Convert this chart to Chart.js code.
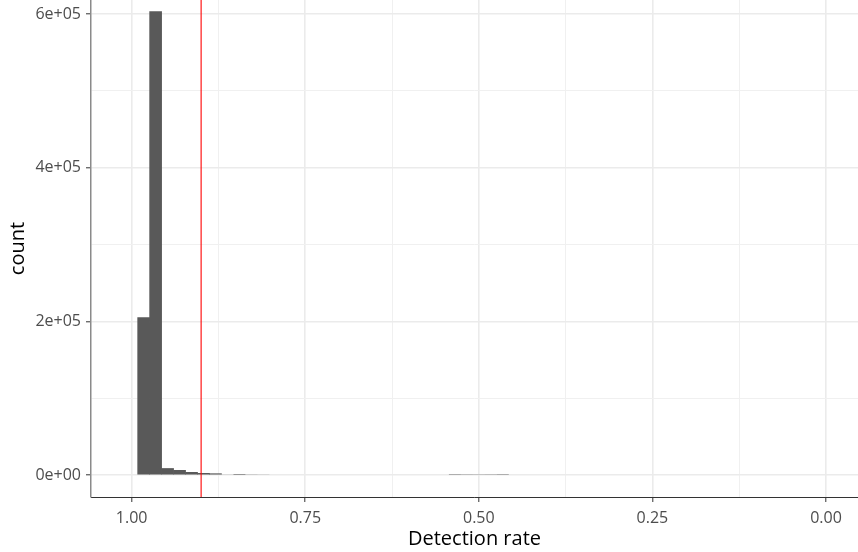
<!DOCTYPE html>
<html>
<head>
<meta charset="utf-8">
<script src="https://cdn.jsdelivr.net/npm/chart.js@4/dist/chart.umd.min.js"></script>
<style>
  html, body { margin: 0; padding: 0; background: #ffffff; }
  canvas { display: block; }
</style>
</head>
<body>
<canvas id="chart" width="858" height="552"></canvas>
<script>
// Histogram bins with a non-empty count: centre of each bin (detection rate) and its count
const binCenters = [0.98276, 0.96552, 0.94828, 0.93103, 0.91379, 0.89655, 0.87931, 0.86207,
                    0.84483, 0.82759, 0.81034,
                    0.53448, 0.51724, 0.50000, 0.48276, 0.46552];
const binCounts = [205000, 603000, 8500, 6100, 3500, 2200, 1700, 900,
                   300, 1300, 1200,
                   500, 650, 700, 650, 500];

// Detection-rate threshold, drawn as a vertical rule
const threshold = 0.9;

// Axis ticks (major with labels, minor as grid only)
const xTickValues = [1, 0.75, 0.5, 0.25, 0];
const xTickLabels = ['1.00', '0.75', '0.50', '0.25', '0.00'];
const xMinorValues = [0.875, 0.625, 0.375, 0.125];
const yTickValues = [0, 200000, 400000, 600000];
const yTickLabels = ['0e+00', '2e+05', '4e+05', '6e+05'];
const yMinorValues = [100000, 300000, 500000];

// Visible ranges of the two axes
const xRange = [-0.0461, 1.0586];
const yRange = [-28633, 618220];

const isMajorX = v => xTickValues.some(t => Math.abs(t - v) < 1e-9);
const isMajorY = v => yTickValues.some(t => Math.abs(t - v) < 1e-6);

const gridColor = (ctx, major) => (ctx.tick && major(ctx.tick.value)) ? '#EBEBEB' : '#F0F0F0';
const gridWidth = (ctx, major) => (ctx.tick && major(ctx.tick.value)) ? 1.6 : 1;
const tickColor = (ctx, major) => (ctx.tick && major(ctx.tick.value)) ? '#333333' : 'rgba(0,0,0,0)';

Chart.defaults.font.family = "'Open Sans', 'Noto Sans', sans-serif";

new Chart(document.getElementById('chart'), {
  type: 'bar',
  data: {
    datasets: [
      {
        type: 'line',
        data: [{ x: threshold, y: yRange[0] }, { x: threshold, y: yRange[1] }],
        borderColor: '#FF0000',
        borderWidth: 1.1,
        pointRadius: 0,
        fill: false,
        order: 0
      },
      {
        type: 'bar',
        data: binCenters.map((c, i) => ({ x: c, y: binCounts[i] })),
        backgroundColor: '#595959',
        borderWidth: 0,
        // close the hairline seams between tall neighbouring bars only
        inflateAmount: ctx => (ctx.raw && ctx.raw.y >= 1500 ? 0.33 : 0),
        barPercentage: 1,
        categoryPercentage: 1,
        order: 1
      }
    ]
  },
  options: {
    responsive: false,
    devicePixelRatio: 1,
    animation: false,
    layout: { padding: 0 },
    plugins: { legend: { display: false }, tooltip: { enabled: false } },
    scales: {
      x: {
        type: 'linear',
        reverse: true,
        offset: false,
        min: xRange[0],
        max: xRange[1],
        afterBuildTicks: s => {
          s.ticks = [...xTickValues, ...xMinorValues].sort((a, b) => a - b).map(v => ({ value: v }));
        },
        afterFit: s => { s.height = 55; s.paddingLeft = 0; s.paddingRight = 0; },
        ticks: {
          autoSkip: false,
          maxRotation: 0,
          minRotation: 0,
          color: '#4D4D4D',
          font: { size: 16 },
          padding: 7,
          callback: v => {
            const i = xTickValues.findIndex(t => Math.abs(t - v) < 1e-9);
            return i >= 0 ? xTickLabels[i] : '';
          }
        },
        grid: {
          offset: false,
          color: ctx => gridColor(ctx, isMajorX),
          lineWidth: ctx => gridWidth(ctx, isMajorX),
          tickColor: ctx => tickColor(ctx, isMajorX),
          tickLength: 5,
          tickWidth: 1
        },
        border: { display: true, color: '#333333', width: 1 },
        title: {
          display: true,
          text: 'Detection rate',
          color: '#000000',
          font: { size: 20 },
          padding: { top: 0, bottom: 1 }
        }
      },
      y: {
        type: 'linear',
        min: yRange[0],
        max: yRange[1],
        afterBuildTicks: s => {
          s.ticks = [...yTickValues, ...yMinorValues].sort((a, b) => a - b).map(v => ({ value: v }));
        },
        afterFit: s => { s.width = 91; s.paddingTop = 0; s.paddingBottom = 0; },
        ticks: {
          autoSkip: false,
          color: '#4D4D4D',
          font: { size: 16 },
          padding: 5,
          callback: v => {
            const i = yTickValues.findIndex(t => Math.abs(t - v) < 1e-6);
            return i >= 0 ? yTickLabels[i] : '';
          }
        },
        grid: {
          color: ctx => gridColor(ctx, isMajorY),
          lineWidth: ctx => gridWidth(ctx, isMajorY),
          tickColor: ctx => tickColor(ctx, isMajorY),
          tickLength: 5,
          tickWidth: 1
        },
        border: { display: true, color: '#8A8A8A', width: 1.5 },
        title: {
          display: true,
          text: 'count',
          color: '#000000',
          font: { size: 20 },
          padding: { top: 6, bottom: 0 }
        }
      }
    }
  }
});
</script>
</body>
</html>
